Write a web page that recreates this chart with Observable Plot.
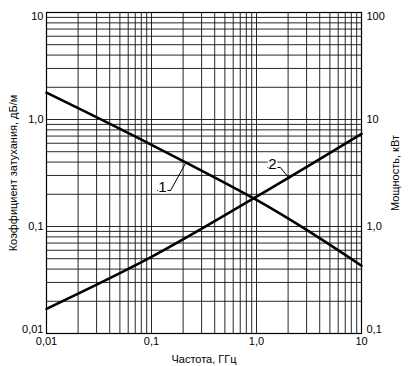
<!DOCTYPE html>
<html><head><meta charset="utf-8">
<script src="https://cdn.jsdelivr.net/npm/d3@7"></script>
<script src="https://cdn.jsdelivr.net/npm/@observablehq/plot@0.6"></script>
<style>
html,body{margin:0;padding:0;background:#fff;}
</style>
</head><body><div id="chart"></div>
<script>
// Curve 1: attenuation coefficient, dB/m (left axis)
const freq1 = [0.01, 0.1, 1, 3.16, 10];
const atten1 = [1.78, 0.58, 0.177, 0.09, 0.043];
// Curve 2: power, kW (right axis)
const freq2 = [0.01, 0.1, 1, 10];
const power2 = [0.17, 0.52, 1.9, 7.35];
// right axis (kW) = left axis (dB/m) x 10
const kwPerDbm = 10;

const xTicks = [0.01, 0.1, 1, 10];
const xTickLabels = ["0,01", "0,1", "1,0", "10"];
const leftTicks = [0.01, 0.1, 1, 10];
const leftTickLabels = ["0,01", "0,1", "1,0", "10"];
const rightTicks = [0.1, 1, 10, 100];
const rightTickLabels = ["0,1", "1,0", "10", "100"];
const gridValues = [0.01,0.02,0.03,0.04,0.05,0.06,0.07,0.08,0.09,
  0.1,0.2,0.3,0.4,0.5,0.6,0.7,0.8,0.9,
  1,2,3,4,5,6,7,8,9,10];

const xTitle = "Частота, ГГц";
const leftTitle = "Коэффициент затухания, дБ/м";
const rightTitle = "Мощность, кВт";

// annotation labels (data units of left axis)
const labelNames = ["1", "2"];
const labelX = [0.127, 1.42];
const labelY = [0.217, 0.356];
const leader1 = [[0.114, 0.217], [0.152, 0.217], [0.211, 0.39]];
const leader2 = [[1.27, 0.356], [1.69, 0.356], [2.06, 0.28]];

const s1 = freq1.map((f, i) => ({f, v: atten1[i]}));
const s2 = freq2.map((f, i) => ({f, v: power2[i] / kwPerDbm}));
const labels = labelNames.map((t, i) => ({t, x: labelX[i], y: labelY[i]}));

const fmtFrom = (ticks, labs) => d => labs[ticks.indexOf(d)];
const rightTicksPlot = rightTicks.map(v => v / kwPerDbm);
const fmtRight = d => rightTickLabels[rightTicksPlot.indexOf(d)];

const font = "Liberation Sans, Arial, sans-serif";

const chart = Plot.plot({
  width: 409, height: 366,
  marginLeft: 46, marginRight: 48, marginTop: 12, marginBottom: 33,
  style: {fontFamily: font, fontSize: "11px", background: "white", color: "black"},
  x: {type: "log", domain: [0.01, 10]},
  y: {type: "log", domain: [0.01, 10]},
  marks: [
    Plot.gridX(gridValues, {stroke: "#111", strokeOpacity: 0.9, strokeWidth: 1}),
    Plot.gridY(gridValues, {stroke: "#111", strokeOpacity: 0.9, strokeWidth: 1}),
    Plot.frame({stroke: "black", strokeWidth: 1.2}),
    Plot.axisX(xTicks, {tickSize: 0, tickPadding: 4, tickFormat: fmtFrom(xTicks, xTickLabels),
      label: xTitle, labelAnchor: "center", labelOffset: 29, labelArrow: "none"}),
    Plot.axisY(leftTicks.slice(1, 3), {anchor: "left", tickSize: 0, tickPadding: 3,
      tickFormat: fmtFrom(leftTicks, leftTickLabels),
      label: leftTitle, labelAnchor: "center", labelOffset: 37, labelArrow: "none"}),
    Plot.axisY([leftTicks[3]], {anchor: "left", tickSize: 0, tickPadding: 3, dy: 4,
      tickFormat: fmtFrom(leftTicks, leftTickLabels), label: null}),
    Plot.axisY([leftTicks[0]], {anchor: "left", tickSize: 0, tickPadding: 3, dy: -4,
      tickFormat: fmtFrom(leftTicks, leftTickLabels), label: null}),
    Plot.axisY(rightTicksPlot.slice(1, 3), {anchor: "right", tickSize: 0, tickPadding: 5,
      tickFormat: fmtRight,
      label: rightTitle, labelAnchor: "center", labelOffset: 37, labelArrow: "none"}),
    Plot.axisY([rightTicksPlot[3]], {anchor: "right", tickSize: 0, tickPadding: 5, dy: 4,
      tickFormat: fmtRight, label: null}),
    Plot.axisY([rightTicksPlot[0]], {anchor: "right", tickSize: 0, tickPadding: 5, dy: -4,
      tickFormat: fmtRight, label: null}),
    Plot.line(s1, {x: "f", y: "v", curve: "catmull-rom", stroke: "black", strokeWidth: 2.6}),
    Plot.line(s2, {x: "f", y: "v", curve: "catmull-rom", stroke: "black", strokeWidth: 2.6}),
    Plot.line(leader1, {x: d => d[0], y: d => d[1], stroke: "black", strokeWidth: 1}),
    Plot.line(leader2, {x: d => d[0], y: d => d[1], stroke: "black", strokeWidth: 1}),
    Plot.text(labels, {x: "x", y: "y", text: "t", fontSize: 15, lineAnchor: "bottom", dy: 2,
      fill: "black", stroke: "white", strokeWidth: 3, paintOrder: "stroke"})
  ]
});
document.getElementById("chart").appendChild(chart);
</script>
</body></html>
